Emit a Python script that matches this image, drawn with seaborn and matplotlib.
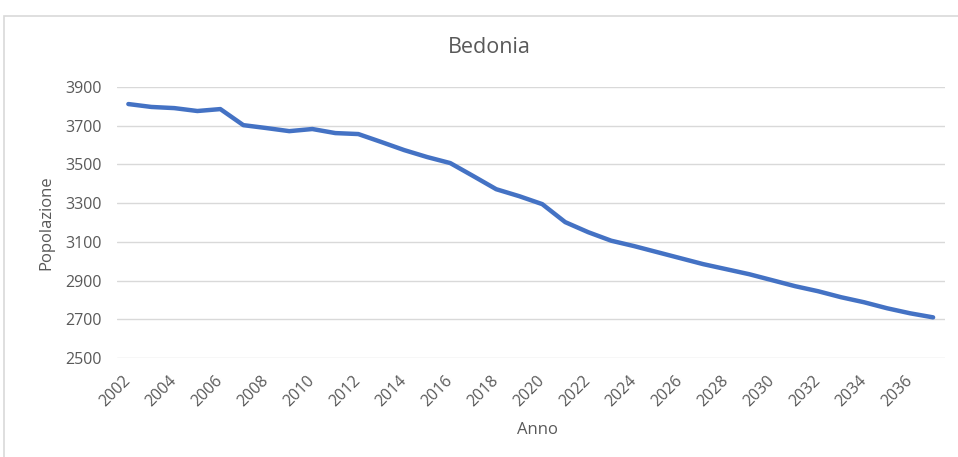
import numpy as np
import pandas as pd
import matplotlib
matplotlib.use("Agg")
import matplotlib.pyplot as plt
import seaborn as sns
from matplotlib.patches import Rectangle

# ── Data ───────────────────────────────────────────────────────────────────
anni = list(range(2002, 2038))
popolazione = [3812, 3797, 3791, 3776, 3786, 3703, 3688, 3672, 3683, 3662,
               3657, 3616, 3574, 3538, 3507, 3440, 3372, 3336, 3295, 3202,
               3150, 3106, 3078, 3047, 3016, 2985, 2959, 2933, 2902, 2871,
               2845, 2814, 2788, 2757, 2731, 2710]
y_ticks = [2500, 2700, 2900, 3100, 3300, 3500, 3700, 3900]
x_ticks = list(range(2002, 2037, 2))

df = pd.DataFrame({"Anno": anni, "Popolazione": popolazione})

# ── Style ──────────────────────────────────────────────────────────────────
sns.set_style("white")
plt.rcParams["font.family"] = ["Open Sans", "DejaVu Sans"]
TXT = "#595959"

fig = plt.figure(figsize=(9.58, 4.57), dpi=100)
ax = fig.add_axes([0.122, 0.2166, 0.864, 0.593])

sns.lineplot(data=df, x="Anno", y="Popolazione", color="#4472C4",
             linewidth=3.2, ax=ax)

ax.set_xlim(2001.5, 2037.5)
ax.set_ylim(2500, 3900)
ax.set_yticks(y_ticks)
ax.set_xticks(x_ticks)
ax.set_xticklabels([str(t) for t in x_ticks], rotation=45, ha="right",
                   va="center", rotation_mode="anchor")
ax.tick_params(axis="y", length=0, labelsize=11.5, labelcolor=TXT, pad=11)
ax.tick_params(axis="x", length=0, labelsize=11.5, labelcolor=TXT, pad=15)
ax.grid(axis="y", color="#D9D9D9", linewidth=1)
ax.set_axisbelow(True)
for s in ax.spines.values():
    s.set_visible(False)

ax.set_xlabel("Anno", fontsize=12, color=TXT)
ax.set_ylabel("Popolazione", fontsize=12, color=TXT)
ax.xaxis.set_label_coords(0.5085, -0.236)
ax.yaxis.set_label_coords(-0.076, 0.5)
fig.text(0.5104, 0.897, "Bedonia", ha="center", va="center",
         fontsize=15.5, color=TXT)

# chart border (Excel frame)
fig.patches.append(Rectangle((0.004, -0.01), 1.5, 0.975,
                             transform=fig.transFigure, fill=False,
                             edgecolor="#D9D9D9", linewidth=1.2))

fig.savefig("out.png", dpi=100)
